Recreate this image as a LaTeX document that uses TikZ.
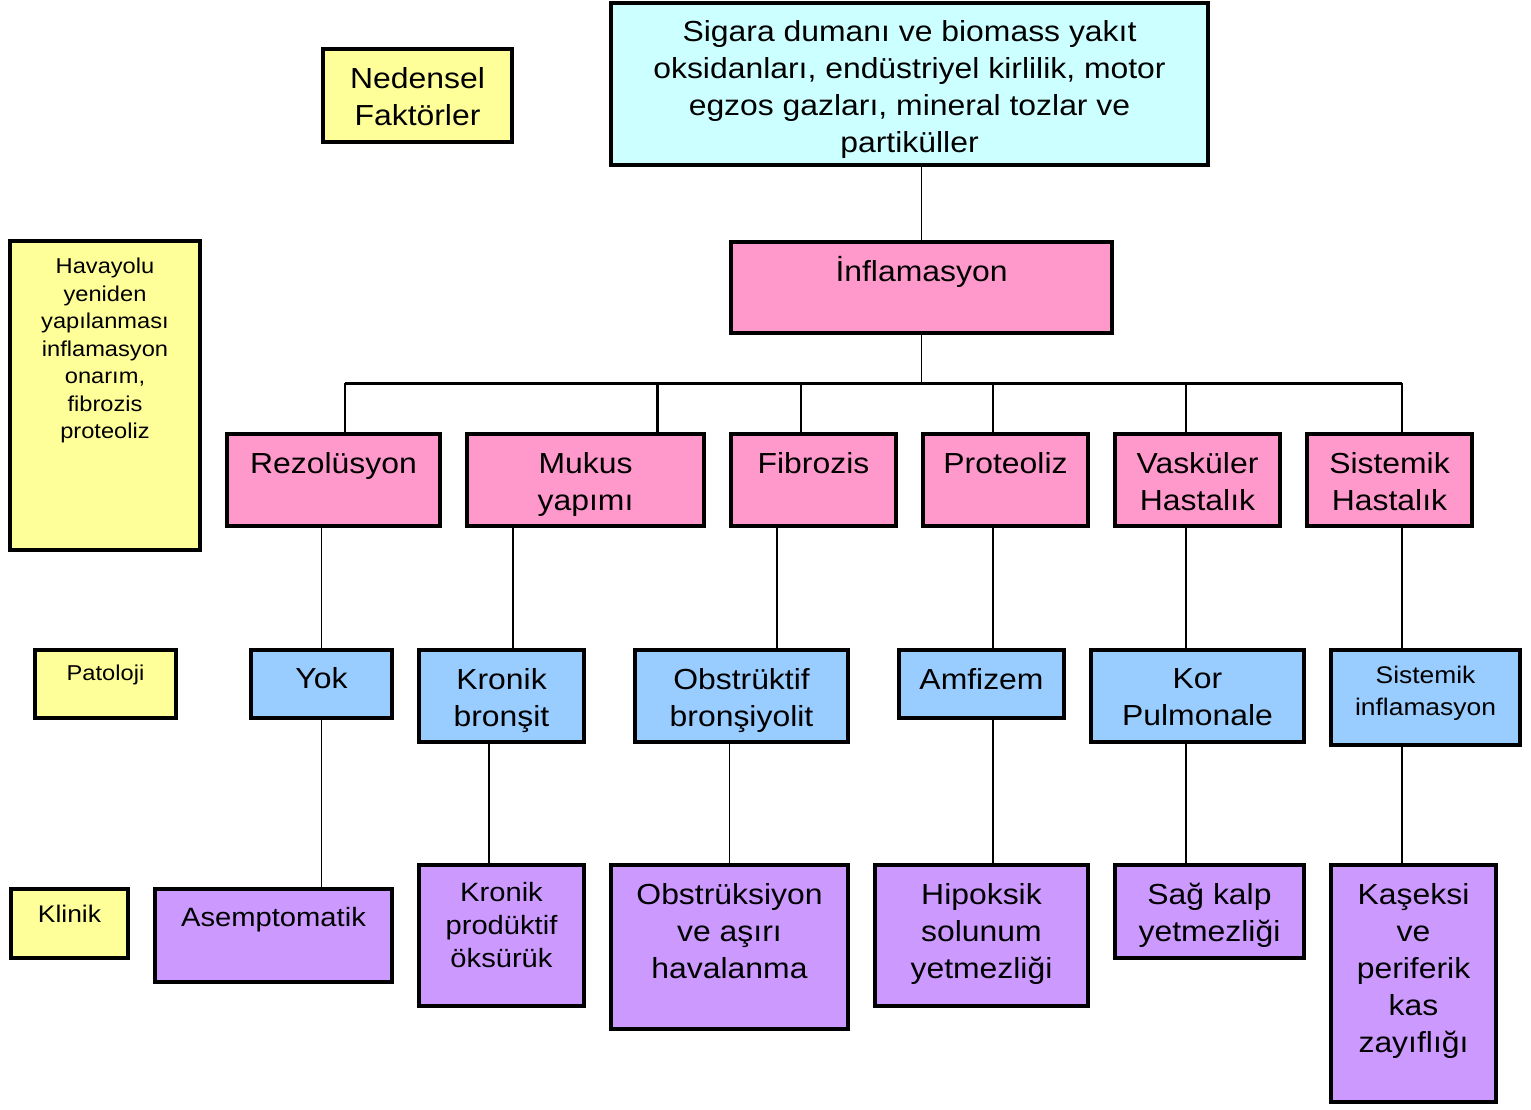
\documentclass[tikz,border=0pt]{standalone}
\usepackage{fontspec}
\setmainfont{Liberation Sans}[FakeStretch=1.1]
\usetikzlibrary{positioning}
\definecolor{causecyan}{HTML}{CCFFFF}
\definecolor{notebg}{HTML}{FFFF99}
\definecolor{mechpink}{HTML}{FF99CC}
\definecolor{pathblue}{HTML}{99CCFF}
\definecolor{clinpurple}{HTML}{CC99FF}

\begin{document}
\begin{tikzpicture}[
    x=1pt, y=-1pt,
    box/.style={rectangle, draw=black, line width=4pt, inner sep=0pt},
    cause/.style={box, fill=causecyan},
    note/.style={box, fill=notebg},
    mech/.style={box, fill=mechpink},
    patho/.style={box, fill=pathblue},
    clin/.style={box, fill=clinpurple},
    bigtxt/.style={inner sep=0pt, align=center, font=\fontsize{29}{37}\selectfont},
    midtxt/.style={inner sep=0pt, align=center, font=\fontsize{26.5}{33}\selectfont},
    smalltxt/.style={inner sep=0pt, align=center, font=\fontsize{24}{32}\selectfont},
    tinytxt/.style={inner sep=0pt, align=center, font=\fontsize{21.5}{27.5}\selectfont},
    link/.style={line width=1.3pt},
    bus/.style={line width=3pt}
]
\useasboundingbox (0,0) rectangle (1531,1109);

    % side notes
    \node[note, minimum width=189pt, minimum height=93pt] (ned) at (417.5,95.5) {};
    \node[bigtxt, below=20pt of ned.north] (ned-t) {Nedensel\\Faktörler};
    \node[note, minimum width=190pt, minimum height=309pt] (hav) at (105,395.5) {};
    \node[tinytxt, below=19pt of hav.north] (hav-t) {Havayolu\\yeniden\\yapılanması\\inflamasyon\\onarım,\\fibrozis\\proteoliz};
    \node[note, minimum width=141pt, minimum height=68pt] (pat) at (105.5,684) {};
    \node[tinytxt, below=17pt of pat.north] (pat-t) {Patoloji};
    \node[note, minimum width=117pt, minimum height=69pt] (kli) at (69.5,923.5) {};
    \node[smalltxt, below=18pt of kli.north] (kli-t) {Klinik};

    % cause and inflammation
    \node[cause, minimum width=597pt, minimum height=162pt] (smoke) at (909.5,84) {};
    \node[bigtxt, below=19pt of smoke.north] (smoke-t) {Sigara dumanı ve biomass yakıt\\oksidanları, endüstriyel kirlilik, motor\\egzos gazları, mineral tozlar ve\\partiküller};
    \node[mech, minimum width=381pt, minimum height=91pt] (infl) at (921.5,287.5) {};
    \node[bigtxt, below=16pt of infl.north] (infl-t) {İnflamasyon};

    % mechanisms
    \node[mech, minimum width=213pt, minimum height=92pt] (rez) at (333.5,480) {};
    \node[bigtxt, below=20pt of rez.north] (rez-t) {Rezolüsyon};
    \node[mech, minimum width=237pt, minimum height=92pt] (muk) at (585.5,480) {};
    \node[bigtxt, below=20pt of muk.north] (muk-t) {Mukus\\yapımı};
    \node[mech, minimum width=165pt, minimum height=92pt] (fib) at (813.5,480) {};
    \node[bigtxt, below=20pt of fib.north] (fib-t) {Fibrozis};
    \node[mech, minimum width=165pt, minimum height=92pt] (prot) at (1005.5,480) {};
    \node[bigtxt, below=20pt of prot.north] (prot-t) {Proteoliz};
    \node[mech, minimum width=165pt, minimum height=92pt] (vas) at (1197.5,480) {};
    \node[bigtxt, below=20pt of vas.north] (vas-t) {Vasküler\\Hastalık};
    \node[mech, minimum width=165pt, minimum height=92pt] (sis) at (1389.5,480) {};
    \node[bigtxt, below=20pt of sis.north] (sis-t) {Sistemik\\Hastalık};

    % pathology
    \node[patho, minimum width=141pt, minimum height=68pt] (yok) at (321.5,684) {};
    \node[bigtxt, below=19pt of yok.north] (yok-t) {Yok};
    \node[patho, minimum width=165pt, minimum height=92pt] (kb) at (501.5,696) {};
    \node[bigtxt, below=20pt of kb.north] (kb-t) {Kronik\\bronşit};
    \node[patho, minimum width=213pt, minimum height=92pt] (obs) at (741.5,696) {};
    \node[bigtxt, below=20pt of obs.north] (obs-t) {Obstrüktif\\bronşiyolit};
    \node[patho, minimum width=165pt, minimum height=68pt] (amf) at (981.5,684) {};
    \node[bigtxt, below=20pt of amf.north] (amf-t) {Amfizem};
    \node[patho, minimum width=213pt, minimum height=92pt] (kor) at (1197.5,696) {};
    \node[bigtxt, below=20pt of kor.north] (kor-t) {Kor\\Pulmonale};
    \node[patho, minimum width=189pt, minimum height=95pt] (sinf) at (1425.5,697.5) {};
    \node[smalltxt, below=18pt of sinf.north] (sinf-t) {Sistemik\\inflamasyon};

    % clinical
    \node[clin, minimum width=237pt, minimum height=93pt] (asem) at (273.5,935.5) {};
    \node[midtxt, below=20pt of asem.north] (asem-t) {Asemptomatik};
    \node[clin, minimum width=165pt, minimum height=141pt] (kpo) at (501.5,935.5) {};
    \node[midtxt, below=19pt of kpo.north] (kpo-t) {Kronik\\prodüktif\\öksürük};
    \node[clin, minimum width=237pt, minimum height=164pt] (oah) at (729.5,947) {};
    \node[bigtxt, below=20pt of oah.north] (oah-t) {Obstrüksiyon\\ve aşırı\\havalanma};
    \node[clin, minimum width=213pt, minimum height=141pt] (hip) at (981.5,935.5) {};
    \node[bigtxt, below=20pt of hip.north] (hip-t) {Hipoksik\\solunum\\yetmezliği};
    \node[clin, minimum width=189pt, minimum height=93pt] (sag) at (1209.5,911.5) {};
    \node[bigtxt, below=20pt of sag.north] (sag-t) {Sağ kalp\\yetmezliği};
    \node[clin, minimum width=165pt, minimum height=237pt] (kas) at (1413.5,983.5) {};
    \node[bigtxt, below=20pt of kas.north] (kas-t) {Kaşeksi\\ve\\periferik\\kas\\zayıflığı};

    % tree above the mechanisms
    \coordinate (busL) at (345,383);
    \coordinate (busR) at (1402,383);
    \coordinate (jMuk) at (657,383);
    \coordinate (jFib) at (801,383);
    \coordinate (jProt) at (993,383);
    \coordinate (jVas) at (1186,383);
    \draw[link] (smoke.south -| infl.north) -- (infl.north);
    \draw[link] (infl.south) -- (infl.south |- busL);
    \draw[bus] (busL) -- (busR);
    \draw[link] (busL) -- (busL |- rez.north);
    \draw[bus] (jMuk) -- (jMuk |- muk.north);
    \draw[link] (jFib) -- (jFib |- fib.north);
    \draw[link] (jProt) -- (jProt |- prot.north);
    \draw[link] (jVas) -- (jVas |- vas.north);
    \draw[link] (busR) -- (busR |- sis.north);

    % mechanism to pathology
    \draw[link] (yok.north |- rez.south) -- (yok.north);
    \draw[link] ([xshift=-72.5pt]muk.south) -- ([xshift=11.5pt]kb.north);
    \draw[link] ([xshift=-36.5pt]fib.south) -- ([xshift=35.5pt]obs.north);
    \draw[link] ([xshift=-12.5pt]prot.south) -- ([xshift=11.5pt]amf.north);
    \draw[link] ([xshift=-11.5pt]vas.south) -- ([xshift=-11.5pt]kor.north);
    \draw[link] ([xshift=12.5pt]sis.south) -- ([xshift=-23.5pt]sinf.north);

    % pathology to clinical
    \draw[link] (yok.south) -- (yok.south |- asem.north);
    \draw[link] ([xshift=-12.5pt]kb.south) -- ([xshift=-12.5pt]kpo.north);
    \draw[link] (oah.north |- obs.south) -- (oah.north);
    \draw[link] ([xshift=11.5pt]amf.south) -- ([xshift=11.5pt]hip.north);
    \draw[link] ([xshift=-11.5pt]kor.south) -- ([xshift=-23.5pt]sag.north);
    \draw[link] ([xshift=-23.5pt]sinf.south) -- ([xshift=-11.5pt]kas.north);

\end{tikzpicture}
\end{document}
